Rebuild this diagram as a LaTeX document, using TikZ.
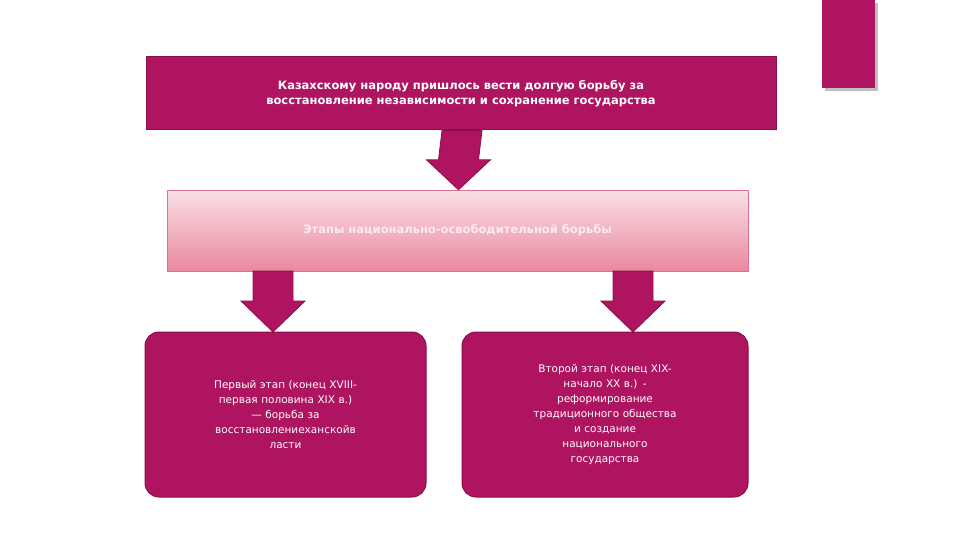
\documentclass[tikz,border=0pt]{standalone}
\usepackage{fontspec}
\setmainfont{DejaVu Sans}
\usetikzlibrary{calc}
\definecolor{mag}{HTML}{AE1460}
\definecolor{magd}{HTML}{8A0E4A}
\definecolor{pinktop}{HTML}{F9E0E6}
\definecolor{pinkbot}{HTML}{EA889F}
\tikzset{
  topbox/.style={draw=magd,line width=1pt,fill=mag,text=white,font=\bfseries\fontsize{11.5}{15}\selectfont,minimum width=630pt,minimum height=73pt,align=center,inner sep=0pt},
  midbox/.style={draw=pinkbot!80!mag,top color=pinktop,bottom color=pinkbot,text=pinktop!60!white,font=\bfseries\fontsize{11.5}{14}\selectfont,minimum width=581pt,minimum height=81pt,inner sep=0pt},
  stagebox/.style={draw=magd,line width=1pt,fill=mag,text=white,rounded corners=14pt,font=\fontsize{10.5}{15}\selectfont,minimum height=165pt,align=center,inner sep=0pt},
  blockarrow/.style={fill=mag,draw=magd,line width=0.8pt}
}
\newcommand{\blockarr}[3]{% from node, to node, x
  \path[blockarrow] ($(#1.south)!0!(#2.north)+(#3-20pt,0)$) coordinate (t1)
    -- ++(40pt,0) |- ($(#2.north)+(#3+32pt,30pt)$) -- ($(#2.north)+(#3,0)$)
    -- ($(#2.north)+(#3-32pt,30pt)$) -| (t1) -- cycle;}
\begin{document}
\begin{tikzpicture}[x=1pt,y=-1pt]
\useasboundingbox (0,0) rectangle (960,540);
\fill[black!25] (825,3) rectangle (878,91);
\fill[mag] (822,0) rectangle (875,88);
\node[topbox] (goal) at (461,93.5) {Казахскому народу пришлось вести долгую борьбу за\\восстановление независимости и сохранение государства};
\node[midbox] (stages) at (457.5,230.5) {Этапы национально-освободительной борьбы};
\node[stagebox,text width=270pt,minimum width=281pt] (first) at (285.5,414.5) {Первый этап (конец XVIII-\\первая половина XIX в.)\\— борьба за\\восстановлениеханскойв\\ласти};
\node[stagebox,text width=270pt,minimum width=286pt] (second) at (605,414.5) {Второй этап (конец XIX-\\начало XX в.) -\\реформирование\\традиционного общества\\и создание\\национального\\государства};
\path[blockarrow] ($(goal.south)+(-19,0)$) coordinate (a1) -- ++(40,0) -- ($(stages.north)+(21,-30)$) -- ($(stages.north)+(33,-30)$) -- ($(stages.north)+(1,0)$) -- ($(stages.north)+(-31,-30)$) -- ($(stages.north)+(-19,-30)$) -- cycle;
\foreach \n/\x in {first/273,second/633}{
  \path[blockarrow] (\x-20,271) -- (\x+20,271) -- (\x+20,301) -- (\x+32,301) -- (\x,332) -- (\x-32,301) -- (\x-20,301) -- cycle;
}
\end{tikzpicture}
\end{document}
